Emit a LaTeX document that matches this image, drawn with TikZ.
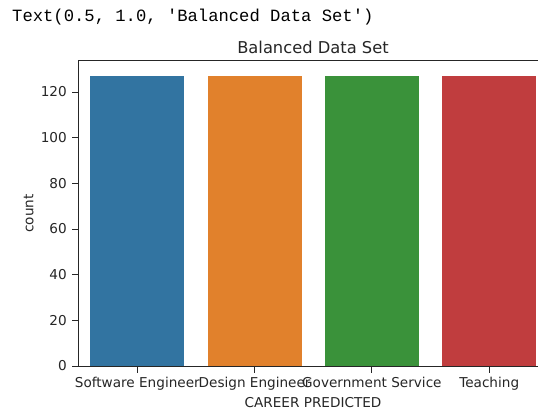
\documentclass[tikz,border=0pt]{standalone}
\usepackage{fontspec}
\setmainfont{DejaVu Sans}
\newfontfamily\codefont{Liberation Mono}
\definecolor{barblue}{HTML}{3274A1}
\definecolor{barorange}{HTML}{E1812C}
\definecolor{bargreen}{HTML}{3A923A}
\definecolor{barred}{HTML}{C03D3E}
\definecolor{inkgray}{HTML}{262626}
\tikzset{
  spine/.style={draw=inkgray, line width=0.9pt},
  tickmark/.style={draw=inkgray, line width=0.9pt},
  ticklabel/.style={text=inkgray, inner sep=0pt, font=\fontsize{13.6}{16}\selectfont},
  axlabel/.style={text=inkgray, inner sep=0pt, font=\fontsize{13.6}{16}\selectfont},
  titlelabel/.style={text=inkgray, inner sep=0pt, font=\fontsize{16.3}{19}\selectfont},
  bar/.style={draw=none}
}
\begin{document}
\begin{tikzpicture}[x=1pt,y=-1pt]
  \useasboundingbox (0,0) rectangle (538,412);
  \fill[white] (0,0) rectangle (538,412);

  % notebook output line
  \node[anchor=base west, inner sep=0pt, text=black, font=\codefont\fontsize{17.2}{20}\selectfont]
    (out) at (12,21.7) {Text(0.5, 1.0, 'Balanced Data Set')};

  % bars: count 127 each, 2.2835 units per count, baseline at y=366
  \fill[barblue]   (90.4,76.0)  rectangle (184.2,366);
  \fill[barorange] (207.7,76.0) rectangle (301.5,366);
  \fill[bargreen]  (325.0,76.0) rectangle (418.8,366);
  \fill[barred]    (442.3,76.0) rectangle (536.1,366);

  % axes frame (the right spine falls outside the page)
  \coordinate (tl) at (78.6,60.7);
  \coordinate (bl) at (78.6,366);
  \coordinate (tr) at (540,60.7);
  \coordinate (br) at (540,366);
  \draw[spine] (tr) -- (tl) -- (bl) -- (br);

  % y ticks and labels
  \foreach \v in {0,20,40,60,80,100,120}{
    \pgfmathsetmacro{\yy}{366-\v*2.2835}
    \coordinate (ya\v) at (78.6,\yy);
    \coordinate (yb\v) at (71.6,\yy);
    \draw[tickmark] (ya\v) -- (yb\v);
    \node[ticklabel, anchor=east] (yl\v) at (67,\yy) {\v};
  }

  % x ticks and labels
  \foreach \c/\lab [count=\i] in {137.3/Software Engineer,254.6/Design Engineer,371.9/Government Service,489.2/Teaching}{
    \coordinate (xa\i) at (\c,366);
    \coordinate (xb\i) at (\c,373);
    \draw[tickmark] (xa\i) -- (xb\i);
    \node[ticklabel, anchor=base] (xl\i) at (\c,387.7) {\lab};
  }

  % axis labels and title
  \node[axlabel, anchor=base] (xlabel) at (313,407.3) {CAREER PREDICTED};
  \node[axlabel, anchor=base, rotate=90] (ylabel) at (33.4,213.3) {count};
  \node[titlelabel, anchor=base] (title) at (313,53.3) {Balanced Data Set};
\end{tikzpicture}
\end{document}
